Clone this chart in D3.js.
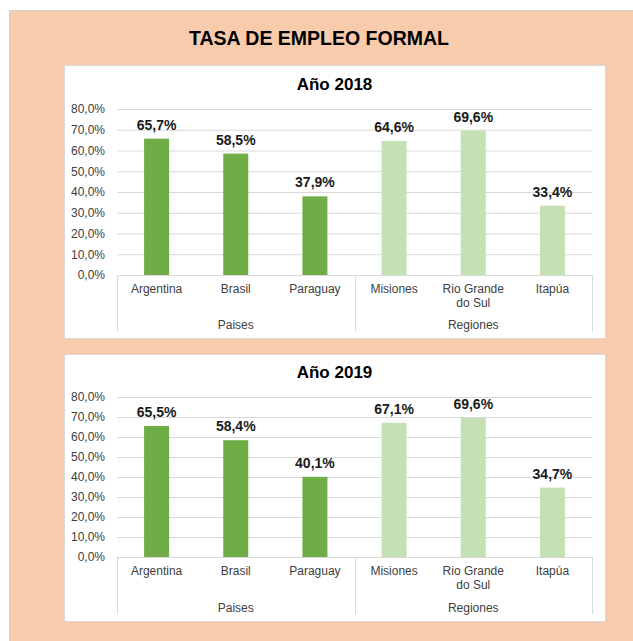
<!DOCTYPE html>
<html lang="es">
  <head>
    <meta charset="utf-8">
    <title>Tasa de empleo formal</title>
    <script type="text/javascript" src="https://d3js.org/d3.v7.min.js"></script>
    <style>
      body { margin: 0; background: #fff; }
      svg { display: block; font-family: "Liberation Sans", Arial, sans-serif; }
    </style>
  </head>
  <body>
    <svg class="chart"></svg>
  </body>

  <script>
    //Data
    const categories = ["Argentina", "Brasil", "Paraguay", "Misiones", "Rio Grande do Sul", "Itapúa"];
    const groups = ["Paises", "Regiones"];
    const groupOf = ["Paises", "Paises", "Paises", "Regiones", "Regiones", "Regiones"];
    const values2018 = [65.7, 58.5, 37.9, 64.6, 69.6, 33.4];
    const values2019 = [65.5, 58.4, 40.1, 67.1, 69.6, 34.7];
    const yTicks = [0, 10, 20, 30, 40, 50, 60, 70, 80];

    //Constants
    const width = 633, height = 641;
    const plotLeft = 117, plotRight = 592;
    const barColors = {"Paises": "#70AD47", "Regiones": "#C5E0B4"};
    const gridColor = "#D9D9D9";
    const pct = v => d3.format(".1f")(v).replace(".", ",") + "%";

    var svg = d3.select(".chart")
      .attr("width", width)
      .attr("height", height);

    //peach background frame
    svg.append("rect")
      .attr("x", 9.5).attr("y", 10.5)
      .attr("width", width).attr("height", height)
      .attr("fill", "#F8CBAD")
      .attr("stroke", "#D0D0D0");

    svg.append("text")
      .attr("x", 319).attr("y", 45)
      .attr("text-anchor", "middle")
      .attr("font-size", 19.5).attr("font-weight", "bold")
      .attr("fill", "#000")
      .text("TASA DE EMPLEO FORMAL");

    var x = d3.scaleBand()
      .domain(categories)
      .range([plotLeft, plotRight])
      .paddingInner(0.684)
      .paddingOuter(0.342);

    /*
      drawPanel(values, title, box)
        - white panel with title, gridlines, bars, data labels
        - two level category axis (categories + groups)
    */
    function drawPanel(values, title, box) {
      var g = svg.append("g");

      g.append("rect")
        .attr("x", 64.5).attr("y", box.top + 0.5)
        .attr("width", 541).attr("height", box.bottom - box.top)
        .attr("fill", "#fff")
        .attr("stroke", "#D9D9D9");

      g.append("text")
        .attr("x", 334.5).attr("y", box.titleY)
        .attr("text-anchor", "middle")
        .attr("font-size", 17).attr("font-weight", "bold")
        .attr("fill", "#000")
        .text(title);

      var y = d3.scaleLinear().domain([0, 80]).range([box.y0, box.y80]);

      var yAxis = d3.axisLeft(y)
        .tickValues(yTicks)
        .tickFormat(pct)
        .tickSize(-(plotRight - plotLeft))
        .tickPadding(12);

      var ax = g.append("g")
        .attr("transform", "translate(" + plotLeft + ",0)")
        .call(yAxis);
      ax.select(".domain").remove();
      ax.selectAll(".tick line").attr("stroke", gridColor);
      ax.selectAll(".tick text")
        .attr("font-size", 12)
        .attr("font-family", "Liberation Sans, Arial, sans-serif")
        .attr("fill", "#404040");

      //bars
      g.selectAll(".bar")
        .data(values)
        .enter()
        .append("rect")
          .attr("class", "bar")
          .attr("x", (d, i) => x(categories[i]))
          .attr("width", x.bandwidth())
          .attr("y", d => y(d))
          .attr("height", d => y(0) - y(d))
          .attr("fill", (d, i) => barColors[groupOf[i]]);

      //data labels
      g.selectAll(".value")
        .data(values)
        .enter()
        .append("text")
          .attr("class", "value")
          .attr("x", (d, i) => x(categories[i]) + x.bandwidth() / 2)
          .attr("y", d => y(d) - 9)
          .attr("text-anchor", "middle")
          .attr("font-size", 14).attr("font-weight", "bold")
          .attr("fill", "#1a1a1a")
          .text(pct);

      //category axis
      g.append("line")
        .attr("x1", plotLeft).attr("x2", plotRight)
        .attr("y1", y(0) + 0.5).attr("y2", y(0) + 0.5)
        .attr("stroke", gridColor);

      var sepX = [x.range()[0], (x.range()[0] + x.range()[1]) / 2, x.range()[1]];
      g.selectAll(".sep")
        .data(sepX)
        .enter()
        .append("line")
          .attr("x1", d => Math.round(d) + 0.5).attr("x2", d => Math.round(d) + 0.5)
          .attr("y1", y(0)).attr("y2", y(0) + box.sepLen)
          .attr("stroke", gridColor);

      var cat = g.selectAll(".cat")
        .data(categories)
        .enter()
        .append("text")
          .attr("class", "cat")
          .attr("x", d => x(d) + x.bandwidth() / 2)
          .attr("y", y(0) + 18)
          .attr("text-anchor", "middle")
          .attr("font-size", 12)
          .attr("fill", "#404040");
      cat.each(function(d) {
        var lines = d == "Rio Grande do Sul" ? ["Rio Grande", "do Sul"] : [d];
        d3.select(this).selectAll("tspan")
          .data(lines)
          .enter()
          .append("tspan")
            .attr("x", x(d) + x.bandwidth() / 2)
            .attr("dy", (l, j) => j == 0 ? 0 : 14)
            .text(l => l);
      });

      g.selectAll(".group")
        .data(groups)
        .enter()
        .append("text")
          .attr("class", "group")
          .attr("x", (d, i) => (sepX[i] + sepX[i + 1]) / 2)
          .attr("y", y(0) + box.groupDy)
          .attr("text-anchor", "middle")
          .attr("font-size", 12)
          .attr("fill", "#404040")
          .text(d => d);
    }

    drawPanel(values2018, "Año 2018", {top: 65, bottom: 338, titleY: 90, y80: 109, y0: 275, sepLen: 57, groupDy: 54});
    drawPanel(values2019, "Año 2019", {top: 354, bottom: 621, titleY: 378, y80: 397, y0: 557, sepLen: 57, groupDy: 55});
  </script>
</html>
